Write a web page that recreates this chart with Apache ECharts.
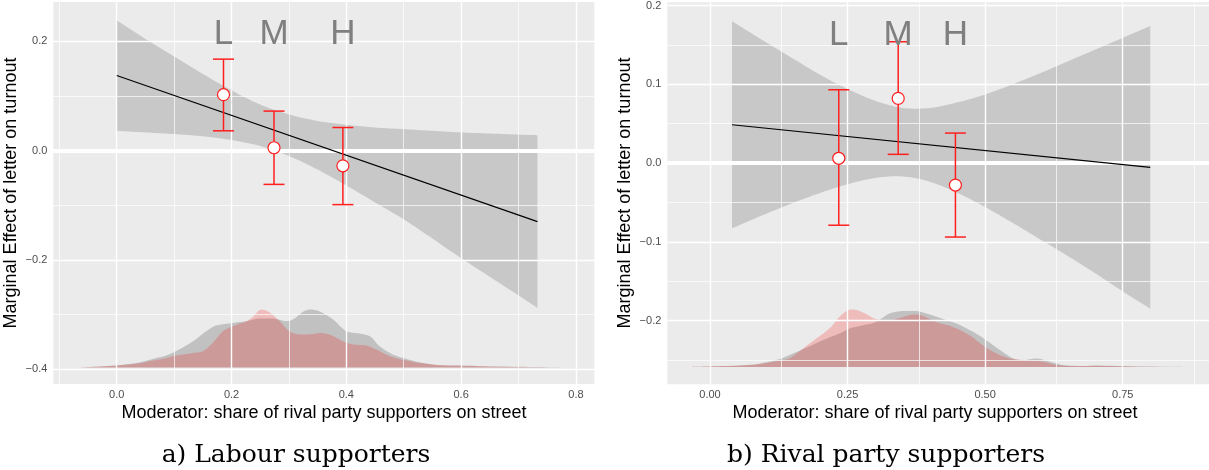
<!DOCTYPE html>
<html>
<head>
<meta charset="utf-8">
<script src="https://cdn.jsdelivr.net/npm/echarts@6/dist/echarts.min.js"></script>
<style>
  html, body { margin: 0; padding: 0; background: #fff; }
  #chart { width: 1209px; height: 470px; }
</style>
</head>
<body>
<div id="chart"></div>
<script>
// ---- panel a) Labour supporters ----
const leftRibX = [0, 0.05, 0.1, 0.15, 0.2, 0.25, 0.3, 0.35, 0.4, 0.45, 0.5, 0.55, 0.6, 0.65, 0.7, 0.733];
const leftRibLo = [0.036, 0.033, 0.030, 0.026, 0.019, 0.008, -0.010, -0.035, -0.064, -0.095, -0.126, -0.161, -0.197, -0.231, -0.265, -0.288];
const leftRibHi = [0.238, 0.204, 0.172, 0.140, 0.110, 0.084, 0.066, 0.054, 0.047, 0.042, 0.039, 0.036, 0.033, 0.031, 0.029, 0.028];
const leftLineX = [0, 0.733];
const leftLineY = [0.137, -0.130];
const leftBinX = [0.186, 0.274, 0.394];
const leftEst = [0.102, 0.005, -0.028];
const leftLo = [0.036, -0.062, -0.099];
const leftHi = [0.167, 0.072, 0.042];
const leftLabelY = 0.213;
const leftDensBase = -0.397;
const leftGrayX = [-0.068, -0.03, 0.0, 0.034, 0.063, 0.086, 0.103, 0.133, 0.156, 0.173, 0.202, 0.226, 0.249, 0.272, 0.295, 0.307, 0.324, 0.336, 0.353, 0.377, 0.4, 0.423, 0.441, 0.458, 0.481, 0.505, 0.528, 0.557, 0.598, 0.633, 0.70, 0.789];
const leftGrayY = [-0.397, -0.3951, -0.3927, -0.3884, -0.3811, -0.3750, -0.3671, -0.3488, -0.3306, -0.3202, -0.3153, -0.3123, -0.3074, -0.3074, -0.3123, -0.3092, -0.2952, -0.2910, -0.2940, -0.3092, -0.3306, -0.3348, -0.3397, -0.3580, -0.3732, -0.3811, -0.3872, -0.3921, -0.3933, -0.3945, -0.3955, -0.397];
const leftRedX = [-0.068, -0.03, 0.0, 0.034, 0.063, 0.086, 0.103, 0.133, 0.150, 0.167, 0.185, 0.202, 0.226, 0.237, 0.252, 0.266, 0.284, 0.301, 0.319, 0.342, 0.353, 0.371, 0.394, 0.412, 0.435, 0.452, 0.476, 0.505, 0.534, 0.569, 0.598, 0.633, 0.70, 0.789];
const leftRedY = [-0.397, -0.3951, -0.3933, -0.3902, -0.3841, -0.3799, -0.3750, -0.3701, -0.3671, -0.3519, -0.3306, -0.3214, -0.3123, -0.3044, -0.2910, -0.2958, -0.3123, -0.3306, -0.3366, -0.3354, -0.3336, -0.3366, -0.3488, -0.3549, -0.3567, -0.3641, -0.3762, -0.3841, -0.3896, -0.3927, -0.3933, -0.3945, -0.3958, -0.397];
const leftXTicks = [0, 0.2, 0.4, 0.6, 0.8];
const leftXMinor = [-0.1, 0.1, 0.3, 0.5, 0.7];
const leftYTicks = [-0.4, -0.2, 0, 0.2];
const leftYMinor = [-0.3, -0.1, 0.1];

// ---- panel b) Rival party supporters ----
const rightRibX = [0.04, 0.1, 0.15, 0.2, 0.25, 0.3, 0.35, 0.4, 0.45, 0.5, 0.55, 0.6, 0.65, 0.7, 0.75, 0.8];
const rightRibHi = [0.180, 0.154, 0.133, 0.112, 0.094, 0.079, 0.070, 0.070, 0.077, 0.087, 0.100, 0.114, 0.129, 0.144, 0.159, 0.174];
const rightRibLo = [-0.083, -0.065, -0.051, -0.038, -0.027, -0.019, -0.017, -0.024, -0.038, -0.056, -0.076, -0.097, -0.118, -0.140, -0.163, -0.185];
const rightLineX = [0.04, 0.80];
const rightLineY = [0.0486, -0.0055];
const rightBinX = [0.234, 0.342, 0.446];
const rightEst = [0.006, 0.082, -0.028];
const rightLo = [-0.079, 0.011, -0.094];
const rightHi = [0.093, 0.154, 0.038];
const rightLabelY = 0.162;
const rightDensBase = -0.259;
const rightGrayX = [-0.033, 0.023, 0.084, 0.120, 0.144, 0.175, 0.205, 0.235, 0.254, 0.278, 0.302, 0.326, 0.351, 0.375, 0.399, 0.430, 0.448, 0.478, 0.502, 0.527, 0.551, 0.569, 0.593, 0.618, 0.642, 0.678, 0.709, 0.727, 0.79, 0.862];
const rightGrayY = [-0.259, -0.2579, -0.2554, -0.2503, -0.2440, -0.2347, -0.2250, -0.2165, -0.2102, -0.2060, -0.2018, -0.1912, -0.1878, -0.1878, -0.1925, -0.1997, -0.2039, -0.2144, -0.2250, -0.2376, -0.2482, -0.2503, -0.2482, -0.2524, -0.2566, -0.2579, -0.2571, -0.2575, -0.2585, -0.259];
const rightRedX = [-0.033, 0.023, 0.084, 0.120, 0.144, 0.169, 0.193, 0.217, 0.235, 0.248, 0.260, 0.278, 0.302, 0.326, 0.351, 0.369, 0.387, 0.411, 0.442, 0.472, 0.496, 0.521, 0.545, 0.569, 0.606, 0.630, 0.660, 0.703, 0.727, 0.79, 0.862];
const rightRedY = [-0.259, -0.2579, -0.2558, -0.2516, -0.2482, -0.2355, -0.2229, -0.2102, -0.1954, -0.1878, -0.1861, -0.1899, -0.1984, -0.1997, -0.1954, -0.1925, -0.1942, -0.2018, -0.2081, -0.2186, -0.2313, -0.2419, -0.2482, -0.2503, -0.2524, -0.2566, -0.2579, -0.2575, -0.2579, -0.2587, -0.259];
const rightXTicks = [0, 0.25, 0.5, 0.75];
const rightXMinor = [0.125, 0.375, 0.625, 0.875];
const rightYTicks = [-0.2, -0.1, 0, 0.1, 0.2];
const rightYMinor = [-0.25, -0.15, -0.05, 0.05, 0.15];

const binLabels = ['L', 'M', 'H'];
const yTitle = 'Marginal Effect of letter on turnout';
const xTitle = 'Moderator: share of rival party supporters on street';

const SANS = '"Liberation Sans", Arial, Helvetica, sans-serif';
const RED = '#ff1f1f';

function pairs(xs, ys) {
  return xs.map((x, i) => [x, ys[i]]);
}

function minusFmt(digits) {
  return (v) => v.toFixed(digits).replace('-', '\u2212');
}

// catmull-rom through pixel points, just for a smooth ribbon edge
function spline(p, n) {
  const out = [];
  for (let i = 0; i < p.length - 1; i++) {
    const p0 = p[Math.max(i - 1, 0)], p1 = p[i], p2 = p[i + 1], p3 = p[Math.min(i + 2, p.length - 1)];
    for (let k = 0; k < n; k++) {
      const t = k / n, t2 = t * t, t3 = t2 * t;
      const f = (a, b, c, d) => 0.5 * (2 * b + (-a + c) * t + (2 * a - 5 * b + 4 * c - d) * t2 + (-a + 3 * b - 3 * c + d) * t3);
      out.push([f(p0[0], p1[0], p2[0], p3[0]), f(p0[1], p1[1], p2[1], p3[1])]);
    }
  }
  out.push(p[p.length - 1]);
  return out;
}

function xAxisFor(idx, min, max, ticks, digits) {
  return {
    type: 'value', gridIndex: idx, min: min, max: max,
    axisLine: { show: false },
    axisTick: { show: true, length: 3.5, customValues: ticks, lineStyle: { color: '#333', width: 1 } },
    axisLabel: { customValues: ticks, formatter: minusFmt(digits), color: '#4d4d4d', fontSize: 11, fontFamily: SANS, margin: 5 },
    splitLine: { show: false }
  };
}

function yAxisFor(idx, min, max, ticks, digits) {
  return {
    type: 'value', gridIndex: idx, min: min, max: max,
    axisLine: { show: false },
    axisTick: { show: true, length: 3.5, customValues: ticks, lineStyle: { color: '#333', width: 1 } },
    axisLabel: { customValues: ticks, formatter: minusFmt(digits), color: '#4d4d4d', fontSize: 11, fontFamily: SANS, margin: 6 },
    splitLine: { show: false }
  };
}

// white ggplot-style grid lines + thick zero line
function gridSeries(idx, xMaj, xMin, yMaj, yMin) {
  const data = [];
  xMin.forEach(v => data.push({ xAxis: v, lineStyle: { color: '#fff', width: 0.7, type: 'solid' } }));
  yMin.forEach(v => data.push({ yAxis: v, lineStyle: { color: '#fff', width: 0.7, type: 'solid' } }));
  xMaj.forEach(v => data.push({ xAxis: v, lineStyle: { color: '#fff', width: 1.4, type: 'solid' } }));
  yMaj.forEach(v => data.push({ yAxis: v, lineStyle: { color: '#fff', width: 1.4, type: 'solid' } }));
  data.push({ yAxis: 0, lineStyle: { color: '#fff', width: 4, type: 'solid' } });
  return {
    type: 'line', xAxisIndex: idx, yAxisIndex: idx, data: [], z: 1, silent: true,
    markLine: { silent: true, symbol: ['none', 'none'], label: { show: false }, animation: false, data: data }
  };
}

function densitySeries(idx, xs, ys, base, color, z) {
  return {
    type: 'line', xAxisIndex: idx, yAxisIndex: idx, data: pairs(xs, ys),
    smooth: 0.3, symbol: 'none', z: z, silent: true,
    lineStyle: { width: 0, opacity: 0 },
    areaStyle: { color: color, origin: base, opacity: 1 }
  };
}

function ribbonSeries(idx, xs, lo, hi) {
  return {
    type: 'custom', xAxisIndex: idx, yAxisIndex: idx, z: 4, silent: true,
    data: xs.map((x, i) => [x, lo[i], hi[i]]),
    renderItem: function (params, api) {
      if (params.dataIndex !== 0) return null;
      const up = xs.map((x, i) => api.coord([x, hi[i]]));
      const dn = xs.map((x, i) => api.coord([x, lo[i]]));
      const pts = spline(up, 10).concat(spline(dn, 10).reverse());
      return { type: 'polygon', shape: { points: pts }, style: { fill: 'rgba(153,153,153,0.42)' } };
    }
  };
}

function errorBarSeries(idx, xs, lo, hi) {
  return {
    type: 'custom', xAxisIndex: idx, yAxisIndex: idx, z: 6, silent: true,
    data: xs.map((x, i) => [x, lo[i], hi[i]]),
    renderItem: function (params, api) {
      const a = api.coord([api.value(0), api.value(1)]);
      const b = api.coord([api.value(0), api.value(2)]);
      const cap = 10.5;
      const st = { stroke: RED, lineWidth: 1.5 };
      return {
        type: 'group',
        children: [
          { type: 'line', shape: { x1: a[0], y1: a[1], x2: b[0], y2: b[1] }, style: st },
          { type: 'line', shape: { x1: a[0] - cap, y1: a[1], x2: a[0] + cap, y2: a[1] }, style: st },
          { type: 'line', shape: { x1: b[0] - cap, y1: b[1], x2: b[0] + cap, y2: b[1] }, style: st }
        ]
      };
    }
  };
}

function labelSeries(idx, xs, yv) {
  return {
    type: 'custom', xAxisIndex: idx, yAxisIndex: idx, z: 8, silent: true,
    data: xs.map((x, i) => [x, yv, binLabels[i]]),
    renderItem: function (params, api) {
      const p = api.coord([api.value(0), api.value(1)]);
      return {
        type: 'text', x: p[0], y: p[1],
        style: {
          text: binLabels[params.dataIndex], fill: '#7f7f7f',
          font: '35px ' + SANS, align: 'center', verticalAlign: 'middle'
        }
      };
    }
  };
}

function panelSeries(idx, d) {
  return [
    gridSeries(idx, d.xMaj, d.xMin, d.yMaj, d.yMin),
    densitySeries(idx, d.grayX, d.grayY, d.base, 'rgba(127,127,127,0.38)', 2),
    densitySeries(idx, d.redX, d.redY, d.base, 'rgba(255,0,0,0.2)', 3),
    ribbonSeries(idx, d.ribX, d.ribLo, d.ribHi),
    {
      type: 'line', xAxisIndex: idx, yAxisIndex: idx, data: pairs(d.lineX, d.lineY),
      symbol: 'none', z: 5, silent: true, lineStyle: { color: '#000', width: 1.2 }
    },
    errorBarSeries(idx, d.binX, d.lo, d.hi),
    {
      type: 'scatter', xAxisIndex: idx, yAxisIndex: idx, data: pairs(d.binX, d.est),
      symbol: 'circle', symbolSize: 12, z: 7, silent: true,
      itemStyle: { color: '#fff', borderColor: RED, borderWidth: 1.2, opacity: 1 }
    },
    labelSeries(idx, d.binX, d.labelY)
  ];
}

const chart = echarts.init(document.getElementById('chart'), null, { renderer: 'canvas' });

chart.setOption({
  animation: false,
  backgroundColor: '#fff',
  grid: [
    { left: 53.3, right: 614.7, top: 2, bottom: 86, show: true, backgroundColor: '#ebebeb', borderWidth: 0 },
    { left: 667.3, right: 0, top: 1, bottom: 85.7, show: true, backgroundColor: '#ebebeb', borderWidth: 0 }
  ],
  xAxis: [
    xAxisFor(0, -0.1105, 0.832, leftXTicks, 1),
    xAxisFor(1, -0.0776, 0.9068, rightXTicks, 2)
  ],
  yAxis: [
    yAxisFor(0, -0.427, 0.2715, leftYTicks, 1),
    yAxisFor(1, -0.281, 0.2042, rightYTicks, 1)
  ],
  series: [
    ...panelSeries(0, {
      xMaj: leftXTicks, xMin: leftXMinor, yMaj: leftYTicks, yMin: leftYMinor,
      grayX: leftGrayX, grayY: leftGrayY, redX: leftRedX, redY: leftRedY, base: leftDensBase,
      ribX: leftRibX, ribLo: leftRibLo, ribHi: leftRibHi,
      lineX: leftLineX, lineY: leftLineY,
      binX: leftBinX, est: leftEst, lo: leftLo, hi: leftHi, labelY: leftLabelY
    }),
    ...panelSeries(1, {
      xMaj: rightXTicks, xMin: rightXMinor, yMaj: rightYTicks, yMin: rightYMinor,
      grayX: rightGrayX, grayY: rightGrayY, redX: rightRedX, redY: rightRedY, base: rightDensBase,
      ribX: rightRibX, ribLo: rightRibLo, ribHi: rightRibHi,
      lineX: rightLineX, lineY: rightLineY,
      binX: rightBinX, est: rightEst, lo: rightLo, hi: rightHi, labelY: rightLabelY
    })
  ],
  graphic: [
    { type: 'text', x: 11, y: 193, rotation: Math.PI / 2, silent: true,
      style: { text: yTitle, font: '18px ' + SANS, fill: '#000', align: 'center', verticalAlign: 'middle' } },
    { type: 'text', x: 625, y: 193, rotation: Math.PI / 2, silent: true,
      style: { text: yTitle, font: '18px ' + SANS, fill: '#000', align: 'center', verticalAlign: 'middle' } },
    { type: 'text', x: 324, y: 413, silent: true,
      style: { text: xTitle, font: '18px ' + SANS, fill: '#000', align: 'center', verticalAlign: 'middle' } },
    { type: 'text', x: 935, y: 413, silent: true,
      style: { text: xTitle, font: '18px ' + SANS, fill: '#000', align: 'center', verticalAlign: 'middle' } },
    { type: 'text', x: 296, y: 455, silent: true,
      style: { text: 'a) Labour supporters', font: '25px "DejaVu Serif", serif', fill: '#000', align: 'center', verticalAlign: 'middle' } },
    { type: 'text', x: 886, y: 455, silent: true,
      style: { text: 'b) Rival party supporters', font: '25px "DejaVu Serif", serif', fill: '#000', align: 'center', verticalAlign: 'middle' } }
  ]
});
</script>
</body>
</html>
